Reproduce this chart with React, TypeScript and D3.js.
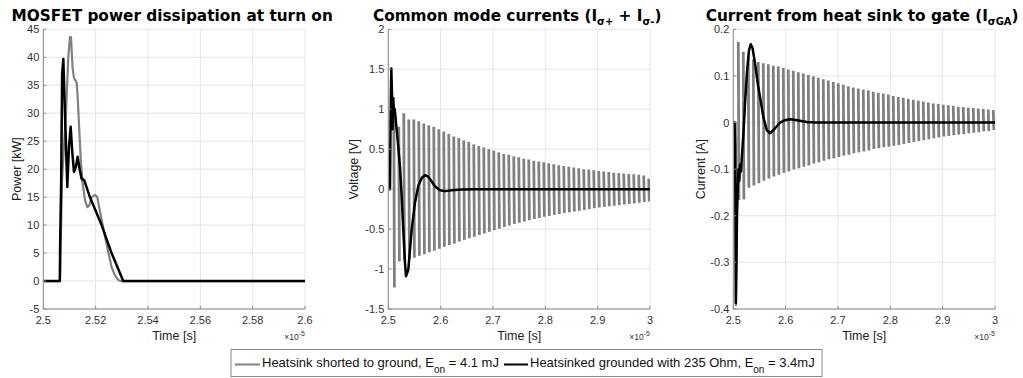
import React from 'react';
import * as d3 from 'd3';

const W = 1023;
const H = 378;
const FONT = "'Liberation Sans', Arial, sans-serif";
const TITLE_FONT = "'DejaVu Sans', Verdana, sans-serif";
const GREY = '#808080';

// ---------------- tick values / labels ----------------
const timeTicksA = [2.5, 2.52, 2.54, 2.56, 2.58, 2.6];
const timeLabelsA = ['2.5', '2.52', '2.54', '2.56', '2.58', '2.6'];
const timeTicksB = [2.5, 2.6, 2.7, 2.8, 2.9, 3];
const timeLabelsB = ['2.5', '2.6', '2.7', '2.8', '2.9', '3'];
const powerTicks = [-5, 0, 5, 10, 15, 20, 25, 30, 35, 40, 45];
const powerLabels = ['-5', '0', '5', '10', '15', '20', '25', '30', '35', '40', '45'];
const cmTicks = [-1.5, -1, -0.5, 0, 0.5, 1, 1.5, 2];
const cmLabels = ['-1.5', '-1', '-0.5', '0', '0.5', '1', '1.5', '2'];
const gaTicks = [-0.4, -0.3, -0.2, -0.1, 0, 0.1, 0.2];
const gaLabels = ['-0.4', '-0.3', '-0.2', '-0.1', '0', '0.1', '0.2'];

// ---------------- panel 1: power [kW] vs time [1e-5 s] ----------------
const powerShorted: [number, number][] = [
  [2.5, 0], [2.5064, 0], [2.50714, 18], [2.50803, 25], [2.50866, 30], [2.50955, 40],
  [2.51019, 43.6], [2.51057, 43.6], [2.51121, 38], [2.51172, 36.3], [2.51273, 35.5],
  [2.51312, 33], [2.51375, 27], [2.51439, 21], [2.51503, 17.5], [2.51592, 14.5],
  [2.5168, 13.2], [2.51757, 13.5], [2.51846, 15], [2.51973, 15.4], [2.52062, 15],
  [2.52164, 12.5], [2.52291, 9.5], [2.52444, 6], [2.52609, 2.5], [2.52737, 1],
  [2.52864, 0.2], [2.52953, 0], [2.6, 0],
];
const powerResistor: [number, number][] = [
  [2.5, 0], [2.5063, 0], [2.50645, 7], [2.5068, 17], [2.5072, 37], [2.50765, 39.7],
  [2.50841, 28], [2.50917, 16.8], [2.50981, 24], [2.51045, 27.6], [2.51108, 23],
  [2.51172, 19.5], [2.51248, 20.5], [2.51312, 22.2], [2.51388, 20], [2.51464, 18.3],
  [2.51566, 18], [2.51782, 15], [2.52228, 10], [2.52609, 5], [2.53055, 0], [2.6, 0],
];

// ---------------- panel 2: common mode currents ----------------
const cmResistor: [number, number][] = [
  [2.5, 0], [2.50324, 0], [2.50439, 0.9], [2.50573, 1.51], [2.50706, 1.2], [2.50802, 0.75],
  [2.50954, 1.14], [2.51088, 0.95], [2.51221, 1.0], [2.51374, 0.9], [2.51603, 0.74],
  [2.51908, 0.53], [2.52233, 0.28], [2.52557, -0.09], [2.52863, -0.51], [2.53187, -0.92],
  [2.53378, -1.09], [2.53817, -1.01], [2.54141, -0.76], [2.54466, -0.51], [2.55095, -0.17],
  [2.55725, 0.04], [2.56374, 0.14], [2.57004, 0.175], [2.57634, 0.155], [2.58282, 0.095],
  [2.58912, 0.035], [2.59866, -0.015], [2.6082, -0.025], [2.62099, -0.015], [2.64008, -0.005],
  [2.66546, 0], [3.0, 0],
];
// ringing of the shorted case: one peak / trough per oscillation period
const ringPeriod = 0.00955;
const cmRingStart = 2.5105;
const cmShortedTops = [
  1.05, 0.78, 0.95, 0.87, 0.87, 0.85, 0.82, 0.8, 0.78, 0.75, 0.72, 0.69, 0.66,
  0.64, 0.61, 0.59, 0.56, 0.54, 0.52, 0.5, 0.48, 0.46, 0.44, 0.43, 0.41, 0.4,
  0.38, 0.37, 0.355, 0.345, 0.335, 0.325, 0.31, 0.3, 0.29, 0.28, 0.27, 0.26, 0.25,
  0.245, 0.235, 0.228, 0.22, 0.215, 0.205, 0.2, 0.195, 0.19, 0.185, 0.18, 0.17, 0.13,
];
const cmShortedBottoms = [
  -1.23, -0.905, -0.89, -0.875, -0.86, -0.835, -0.815, -0.79, -0.77, -0.745, -0.72,
  -0.7, -0.68, -0.655, -0.635, -0.615, -0.595, -0.575, -0.555, -0.535, -0.515, -0.495,
  -0.475, -0.455, -0.435, -0.42, -0.405, -0.39, -0.375, -0.36, -0.345, -0.335, -0.32,
  -0.31, -0.3, -0.29, -0.28, -0.27, -0.26, -0.25, -0.24, -0.23, -0.222, -0.215, -0.207,
  -0.2, -0.193, -0.186, -0.178, -0.17, -0.162, -0.155,
];

// ---------------- panel 3: heat sink to gate current ----------------
const gaResistor: [number, number][] = [
  [2.5, 0], [2.50229, 0], [2.50363, -0.05], [2.50478, -0.387], [2.50612, -0.3],
  [2.50707, -0.2], [2.5086, -0.14], [2.50994, -0.1], [2.51147, -0.125], [2.51281, -0.09],
  [2.51472, -0.105], [2.51663, -0.07], [2.5195, -0.02], [2.52237, 0.04], [2.5262, 0.11],
  [2.53002, 0.155], [2.53327, 0.168], [2.53671, 0.16], [2.54149, 0.127], [2.54723, 0.08],
  [2.55105, 0.055], [2.55736, 0.012], [2.56386, -0.016], [2.57017, -0.023], [2.57782, -0.015],
  [2.58929, 0], [2.59885, 0.005], [2.60841, 0.007], [2.6218, 0.005], [2.64034, 0.001],
  [2.65621, 0], [3.0, 0],
];
const gaShortedLead: [number, number][] = [
  [2.5, 0], [2.5046, 0], [2.5052, -0.392], [2.5062, -0.22],
];
const gaRingStart = 2.50956;
const gaShortedTops = [
  0.173, 0.152, 0.141, 0.135, 0.13, 0.127, 0.125, 0.122, 0.12, 0.117, 0.114, 0.111,
  0.108, 0.105, 0.102, 0.099, 0.096, 0.093, 0.09, 0.087, 0.084, 0.081, 0.078, 0.075,
  0.073, 0.071, 0.069, 0.066, 0.064, 0.062, 0.06, 0.057, 0.055, 0.053, 0.051, 0.049,
  0.047, 0.045, 0.043, 0.041, 0.04, 0.038, 0.037, 0.036, 0.034, 0.033, 0.032, 0.031,
  0.03, 0.029, 0.028, 0.027,
];
const gaShortedBottoms = [
  -0.166, -0.165, -0.14, -0.135, -0.13, -0.125, -0.12, -0.116, -0.112, -0.108, -0.105,
  -0.101, -0.098, -0.095, -0.092, -0.088, -0.085, -0.082, -0.079, -0.077, -0.074, -0.071,
  -0.069, -0.066, -0.064, -0.062, -0.06, -0.057, -0.055, -0.053, -0.052, -0.05, -0.048,
  -0.046, -0.044, -0.042, -0.04, -0.038, -0.036, -0.034, -0.032, -0.03, -0.029, -0.027,
  -0.026, -0.025, -0.023, -0.022, -0.021, -0.019, -0.018, -0.016,
];

// ---------------- chart ----------------
type PanelProps = {
  id: string;
  x0: number; x1: number; y0: number; y1: number;
  xDomain: [number, number]; yDomain: [number, number];
  xTicks: number[]; xLabels: string[];
  yTicks: number[]; yLabels: string[];
  title: React.ReactNode; yLabel: string; yLabelX: number;
  greyLines: [number, number][][];
  ring?: { start: number; tops: number[]; bottoms: number[] };
  blackLines: [number, number][][];
};

function Panel(p: PanelProps) {
  const x = d3.scaleLinear().domain(p.xDomain).range([p.x0, p.x1]);
  const y = d3.scaleLinear().domain(p.yDomain).range([p.y1, p.y0]);
  const line = d3.line<[number, number]>().x(d => x(d[0])).y(d => y(d[1]));
  let ringPath = '';
  if (p.ring) {
    const r = p.ring;
    ringPath = r.tops
      .map((top, i) => {
        const t = r.start + i * ringPeriod;
        return `M${x(t)},${y(top)}L${x(t) + 0.6},${y(r.bottoms[i])}`;
      })
      .join('');
  }
  const tickLen = 3;
  const axisColor = '#8a8a8a';
  const textColor = '#333';
  return (
    <g>
      <defs>
        <clipPath id={`clip-${p.id}`}>
          <rect x={p.x0} y={p.y0 - 2} width={p.x1 - p.x0} height={p.y1 - p.y0 + 2} />
        </clipPath>
      </defs>
      {/* grid */}
      {p.xTicks.map((t, i) => (
        <line key={`gx${i}`} x1={x(t)} x2={x(t)} y1={p.y0} y2={p.y1} stroke="#e4e4e4" strokeWidth={1} />
      ))}
      {p.yTicks.map((t, i) => (
        <line key={`gy${i}`} x1={p.x0} x2={p.x1} y1={y(t)} y2={y(t)} stroke="#e4e4e4" strokeWidth={1} />
      ))}
      {/* data */}
      <g clipPath={`url(#clip-${p.id})`}>
        {p.greyLines.map((s, i) => (
          <path key={`gl${i}`} d={line(s) || ''} fill="none" stroke={GREY} strokeWidth={2.2} strokeLinejoin="round" />
        ))}
        {ringPath && <path d={ringPath} fill="none" stroke={GREY} strokeWidth={2.8} />}
        {p.blackLines.map((s, i) => (
          <path key={`bl${i}`} d={line(s) || ''} fill="none" stroke="#000" strokeWidth={2.5} strokeLinejoin="round" />
        ))}
      </g>
      {/* axes */}
      <line x1={p.x0} x2={p.x0} y1={p.y0} y2={p.y1} stroke={axisColor} strokeWidth={1} />
      <line x1={p.x0} x2={p.x1} y1={p.y1} y2={p.y1} stroke={axisColor} strokeWidth={1} />
      {p.xTicks.map((t, i) => (
        <g key={`xt${i}`}>
          <line x1={x(t)} x2={x(t)} y1={p.y1} y2={p.y1 - tickLen} stroke={axisColor} />
          <text x={x(t)} y={p.y1 + 15} textAnchor="middle" fontFamily={FONT} fontSize={11} fill={textColor}>
            {p.xLabels[i]}
          </text>
        </g>
      ))}
      {p.yTicks.map((t, i) => (
        <g key={`yt${i}`}>
          <line x1={p.x0} x2={p.x0 + tickLen} y1={y(t)} y2={y(t)} stroke={axisColor} />
          <text x={p.x0 - 4} y={y(t) + 4} textAnchor="end" fontFamily={FONT} fontSize={11} fill={textColor}>
            {p.yLabels[i]}
          </text>
        </g>
      ))}
      {/* labels */}
      <text x={(p.x0 + p.x1) / 2} y={340} textAnchor="middle" fontFamily={FONT} fontSize={12.5} fill="#222">
        Time [s]
      </text>
      <text x={p.x1} y={340} textAnchor="end" fontFamily={FONT} fontSize={8.5} fill={textColor}>
        ×10<tspan dy={-4} fontSize={7}>-5</tspan>
      </text>
      <text
        transform={`translate(${p.yLabelX},${(p.y0 + p.y1) / 2}) rotate(-90)`}
        textAnchor="middle"
        fontFamily={FONT}
        fontSize={12.5}
        fill="#222"
      >
        {p.yLabel}
      </text>
      <text
        x={(p.x0 + p.x1) / 2 - 2}
        y={21}
        textAnchor="middle"
        fontFamily={TITLE_FONT}
        fontWeight="bold"
        fontSize={15.3}
        fill="#000"
      >
        {p.title}
      </text>
    </g>
  );
}

export default function App() {
  const top = 29.3;
  const bottom = 309;
  return (
    <svg
      width={W}
      height={H}
      viewBox={`0 0 ${W} ${H}`}
      style={{ position: 'absolute', left: 0, top: 0, background: '#fff' }}
    >
      <rect x={0} y={0} width={W} height={H} fill="#fff" />
      <Panel
        id="p1"
        x0={43.3} x1={305} y0={top} y1={bottom}
        xDomain={[2.5, 2.6]} yDomain={[-5, 45]}
        xTicks={timeTicksA} xLabels={timeLabelsA}
        yTicks={powerTicks} yLabels={powerLabels}
        title="MOSFET power dissipation at turn on"
        yLabel="Power [kW]" yLabelX={21}
        greyLines={[powerShorted]}
        blackLines={[powerResistor]}
      />
      <Panel
        id="p2"
        x0={388.3} x1={650} y0={top} y1={bottom}
        xDomain={[2.5, 3]} yDomain={[-1.5, 2]}
        xTicks={timeTicksB} xLabels={timeLabelsB}
        yTicks={cmTicks} yLabels={cmLabels}
        title={
          <>
            Common mode currents (I<tspan dy={4} fontSize={10}>σ+</tspan>
            <tspan dy={-4}> + I</tspan>
            <tspan dy={4} fontSize={10}>σ-</tspan>
            <tspan dy={-4}>)</tspan>
          </>
        }
        yLabel="Voltage [V]" yLabelX={358}
        greyLines={[]}
        ring={{ start: cmRingStart, tops: cmShortedTops, bottoms: cmShortedBottoms }}
        blackLines={[cmResistor]}
      />
      <Panel
        id="p3"
        x0={733.3} x1={995} y0={top} y1={bottom}
        xDomain={[2.5, 3]} yDomain={[-0.4, 0.2]}
        xTicks={timeTicksB} xLabels={timeLabelsB}
        yTicks={gaTicks} yLabels={gaLabels}
        title={
          <>
            Current from heat sink to gate (I<tspan dy={4} fontSize={10}>σGA</tspan>
            <tspan dy={-4}>)</tspan>
          </>
        }
        yLabel="Current [A]" yLabelX={705}
        greyLines={[gaShortedLead]}
        ring={{ start: gaRingStart, tops: gaShortedTops, bottoms: gaShortedBottoms }}
        blackLines={[gaResistor]}
      />
      {/* legend */}
      <g>
        <rect x={231} y={349.5} width={591} height={27} fill="#fff" stroke="#8a8a8a" strokeWidth={1} />
        <line x1={235} x2={260} y1={364.5} y2={364.5} stroke={GREY} strokeWidth={2} />
        <text x={262} y={367} fontFamily={FONT} fontSize={13} fill="#111">
          Heatsink shorted to ground, E<tspan dy={6} fontSize={10}>on</tspan>
          <tspan dy={-6}> = 4.1 mJ</tspan>
        </text>
        <line x1={504} x2={528} y1={364.5} y2={364.5} stroke="#000" strokeWidth={2} />
        <text x={530} y={367} fontFamily={FONT} fontSize={13} fill="#111">
          Heatsinked grounded with 235 Ohm, E<tspan dy={6} fontSize={10}>on</tspan>
          <tspan dy={-6}> = 3.4mJ</tspan>
        </text>
      </g>
    </svg>
  );
}
